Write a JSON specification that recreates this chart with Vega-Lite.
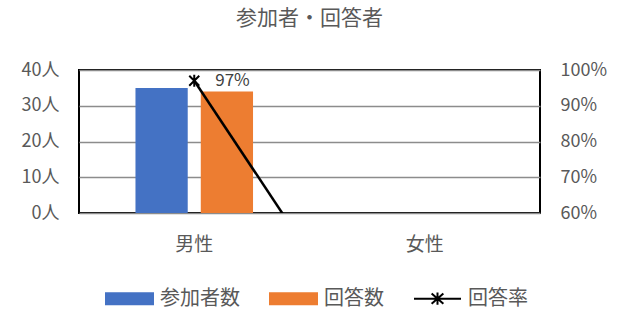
{
  "$schema": "https://vega.github.io/schema/vega-lite/v6.json",
  "autosize": {"type": "none"},
  "width": 461,
  "height": 143,
  "padding": {"left": 79, "top": 70, "right": 84, "bottom": 97},
  "background": "white",
  "config": {
    "font": "Noto Sans CJK JP",
    "view": {"stroke": "black", "strokeWidth": 2},
    "axis": {"labelColor": "#595959", "labelFontSize": 18, "ticks": false, "domain": false, "title": null}
  },
  "title": {"text": "参加者・回答者", "fontSize": 21, "fontWeight": "normal", "color": "#595959", "offset": 32},
  "data": {"values": [
    {"category": "男性", "series": "参加者数", "value": 35},
    {"category": "男性", "series": "回答数", "value": 34},
    {"category": "男性", "series": "回答率", "value": 0.97},
    {"category": "女性", "series": "参加者数", "value": 0},
    {"category": "女性", "series": "回答数", "value": 0},
    {"category": "女性", "series": "回答率", "value": 0}
  ]},
  "encoding": {
    "x": {"field": "category", "type": "nominal", "sort": ["男性", "女性"],
      "scale": {"paddingInner": 0.49, "paddingOuter": 0.245},
      "axis": {"labelAngle": 0, "labelPadding": 22, "labelFontSize": 19, "grid": false}}
  },
  "layer": [
    {
      "transform": [{"filter": "datum.series !== '回答率'"}],
      "mark": {"type": "bar"},
      "encoding": {
        "xOffset": {"field": "series", "type": "nominal", "sort": ["参加者数", "回答数"], "scale": {"paddingInner": 0.2}},
        "y": {"field": "value", "type": "quantitative", "scale": {"domain": [0, 40]},
          "axis": {"values": [0, 10, 20, 30, 40], "labelExpr": "datum.value + '人'", "labelPadding": 20,
            "grid": true, "gridColor": "#8C8C8C", "gridWidth": 1.5}},
        "color": {"field": "series", "type": "nominal",
          "scale": {"domain": ["参加者数", "回答数", "回答率"], "range": ["#4472C4", "#ED7D31", "black"]}}
      }
    },
    {
      "transform": [{"filter": "datum.series === '回答率'"}],
      "encoding": {
        "y": {"field": "value", "type": "quantitative", "scale": {"domain": [0.6, 1], "zero": false},
          "axis": {"orient": "right", "values": [0.6, 0.7, 0.8, 0.9, 1.0], "format": ".0%", "labelPadding": 20, "grid": false}}
      },
      "layer": [
        {"mark": {"type": "line", "clip": true, "color": "black", "strokeWidth": 2.5}},
        {"mark": {"type": "point", "clip": true, "shape": "M-1,-1L1,1M-1,1L1,-1M0,-1.2L0,1.2", "size": 100, "color": "black", "strokeWidth": 2, "filled": false, "opacity": 1}},
        {"transform": [{"filter": "datum.value >= 0.6"}],
          "mark": {"type": "text", "align": "left", "dx": 21, "fontSize": 17, "color": "#404040"},
          "encoding": {"text": {"field": "value", "type": "quantitative", "format": ".0%"}}}
      ]
    },
    {
      "transform": [{"filter": "datum.category === '男性'"}],
      "mark": {"type": "point", "opacity": 0, "filled": true},
      "encoding": {
        "color": {"field": "series", "type": "nominal",
          "scale": {"domain": ["参加者数", "回答数", "回答率"], "range": ["#4472C4", "#ED7D31", "black"]},
          "legend": {"orient": "none", "legendX": 26, "legendY": 204, "direction": "horizontal", "title": null, "symbolOpacity": 1,
            "symbolSize": 2209, "symbolStrokeWidth": 2, "labelFontSize": 20, "labelColor": "#595959",
            "labelOffset": 6, "columnPadding": 26,
            "encode": {"symbols": {"update": {"stroke": {"scale": "color", "field": "value"}, "strokeWidth": {"value": 2}}}}}},
        "shape": {"field": "series", "type": "nominal",
          "scale": {"domain": ["参加者数", "回答数", "回答率"],
            "range": ["M-1,-0.23H1V0.23H-1Z", "M-1,-0.23H1V0.23H-1Z", "M-1,0H1M-0.25,-0.22L0.25,0.22M-0.25,0.22L0.25,-0.22M0,-0.26L0,0.26"]},
          "legend": {"orient": "none", "legendX": 26, "legendY": 204, "direction": "horizontal", "title": null, "symbolOpacity": 1,
            "symbolSize": 2209, "symbolStrokeWidth": 2, "labelFontSize": 20, "labelColor": "#595959",
            "labelOffset": 6, "columnPadding": 26,
            "encode": {"symbols": {"update": {"stroke": {"scale": "color", "field": "value"}, "strokeWidth": {"value": 2}}}}}}
      }
    }
  ],
  "resolve": {"scale": {"y": "independent"}}
}
